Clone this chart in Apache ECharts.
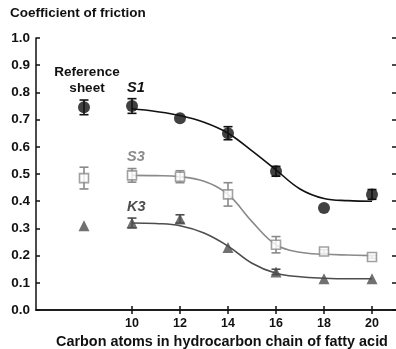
<!DOCTYPE html>
<html>
<head>
<meta charset="utf-8">
<script src="https://cdn.jsdelivr.net/npm/echarts@6/dist/echarts.min.js"></script>
<style>
html,body{margin:0;padding:0;background:#fff;}
#chart{width:396px;height:349px;}
</style>
</head>
<body>
<div id="chart"></div>
<script>
// Chain length (carbon atoms); 8 is the slot used for the reference sheet
var chainX = [8, 10, 12, 14, 16, 18, 20];
var tickX = [10, 12, 14, 16, 18, 20];
var yTicks = [0.0, 0.1, 0.2, 0.3, 0.4, 0.5, 0.6, 0.7, 0.8, 0.9, 1.0];

// Measured coefficient of friction
var s1Mean = [0.745, 0.75, 0.705, 0.65, 0.51, 0.375, 0.425];
var s1Err  = [0.027, 0.027, 0, 0.024, 0.018, 0, 0.018];
var s3Mean = [0.485, 0.495, 0.49, 0.425, 0.24, 0.215, 0.195];
var s3Err  = [0.04, 0.025, 0.022, 0.043, 0.03, 0.007, 0.005];
var k3Mean = [0.31, 0.32, 0.335, 0.23, 0.14, 0.115, 0.115];
var k3Err  = [0, 0.018, 0.015, 0, 0.01, 0, 0];

// Fitted curves, read at each carbon count from 10 to 20
var fitX  = [10, 11, 12, 13, 14, 15, 16, 17, 18, 19, 20];
var s1Fit = [0.74, 0.73, 0.715, 0.69, 0.65, 0.585, 0.515, 0.445, 0.41, 0.402, 0.40];
var s3Fit = [0.495, 0.494, 0.49, 0.473, 0.425, 0.325, 0.24, 0.212, 0.205, 0.202, 0.20];
var k3Fit = [0.32, 0.318, 0.31, 0.283, 0.235, 0.172, 0.135, 0.122, 0.117, 0.115, 0.115];

var C_S1 = '#111111', C_S3 = '#8a8a8a', C_K3 = '#4d4d4d';
var FONT = 'Liberation Sans, Arial, sans-serif';

function pairs(xs, ys) { return xs.map(function (x, i) { return [x, ys[i]]; }); }
function errData(xs, m, e) {
  var out = [];
  xs.forEach(function (x, i) { if (e[i] > 0) out.push([x, m[i] - e[i], m[i] + e[i]]); });
  return out;
}
function errSeries(xs, m, e, color) {
  return {
    type: 'custom', z: 3, silent: true,
    data: errData(xs, m, e),
    renderItem: function (params, api) {
      var lo = api.coord([api.value(0), api.value(1)]);
      var hi = api.coord([api.value(0), api.value(2)]);
      var w = 4.5;
      var st = { stroke: color, lineWidth: 1.6 };
      return { type: 'group', children: [
        { type: 'line', shape: { x1: lo[0], y1: lo[1], x2: hi[0], y2: hi[1] }, style: st },
        { type: 'line', shape: { x1: lo[0] - w, y1: lo[1], x2: lo[0] + w, y2: lo[1] }, style: st },
        { type: 'line', shape: { x1: hi[0] - w, y1: hi[1], x2: hi[0] + w, y2: hi[1] }, style: st }
      ]};
    }
  };
}
function fitSeries(ys, color) {
  return { type: 'line', data: pairs(fitX, ys), smooth: 0.4, showSymbol: false, silent: true,
           lineStyle: { color: color, width: 1.6 }, z: 2 };
}

var axisLineStyle = { color: '#111', width: 1.5 };
var chart = echarts.init(document.getElementById('chart'));
chart.setOption({
  animation: false,
  backgroundColor: '#fff',
  grid: { left: 36, right: 0, top: 38, bottom: 39, containLabel: false, outerBoundsMode: 'none' },
  xAxis: [{
    type: 'value', min: 6, max: 21, position: 'bottom',
    name: 'Carbon atoms in hydrocarbon chain of fatty acid',
    nameLocation: 'middle', nameGap: 24,
    nameTextStyle: { fontFamily: FONT, fontWeight: 'bold', fontSize: 14.4, color: '#111', padding: [0, 0, 0, 12] },
    axisLine: { lineStyle: axisLineStyle },
    axisTick: { inside: true, length: 4, lineStyle: axisLineStyle, customValues: tickX },
    axisLabel: { customValues: tickX, margin: 7, fontFamily: FONT, fontWeight: 'bold', fontSize: 12.5, color: '#111' },
    splitLine: { show: false }
  }, {
    type: 'value', min: 6, max: 21, position: 'top',
    axisLine: { lineStyle: axisLineStyle },
    axisTick: { inside: true, length: 4, lineStyle: axisLineStyle, customValues: tickX },
    axisLabel: { show: false }, splitLine: { show: false }
  }],
  yAxis: [{
    type: 'value', min: 0, max: 1, interval: 0.1, position: 'left',
    axisLine: { show: true, lineStyle: axisLineStyle },
    axisTick: { inside: true, length: 4, lineStyle: axisLineStyle, customValues: yTicks },
    axisLabel: { customValues: yTicks, margin: 6, fontFamily: FONT, fontWeight: 'bold', fontSize: 13.5, color: '#111',
                 formatter: function (v) { return v.toFixed(1); } },
    splitLine: { show: false }
  }, {
    type: 'value', min: 0, max: 1, interval: 0.1, position: 'right',
    axisLine: { show: false },
    axisTick: { show: true, inside: true, length: 4, lineStyle: axisLineStyle },
    axisLabel: { show: false }, splitLine: { show: false }
  }],
  graphic: [
    { type: 'text', left: 10, top: 6, style: { text: 'Coefficient of friction', font: 'bold 13.5px ' + FONT, fill: '#111' } },
    { type: 'text', x: 87, y: 64, style: { text: 'Reference\nsheet', font: 'bold 13.5px ' + FONT, fill: '#111', align: 'center', lineHeight: 16 } },
    { type: 'text', x: 127, y: 80, style: { text: 'S1', font: 'italic bold 14.5px ' + FONT, fill: C_S1 } },
    { type: 'text', x: 127, y: 149, style: { text: 'S3', font: 'italic bold 14.5px ' + FONT, fill: C_S3 } },
    { type: 'text', x: 127, y: 199, style: { text: 'K3', font: 'italic bold 14.5px ' + FONT, fill: C_K3 } }
  ],
  series: [
    fitSeries(s1Fit, C_S1),
    fitSeries(s3Fit, C_S3),
    fitSeries(k3Fit, C_K3),
    errSeries(chainX, s1Mean, s1Err, C_S1),
    errSeries(chainX, s3Mean, s3Err, C_S3),
    errSeries(chainX, k3Mean, k3Err, C_K3),
    { type: 'scatter', data: pairs(chainX, s1Mean), symbol: 'circle', symbolSize: 12, z: 4,
      itemStyle: { color: C_S1 } },
    { type: 'scatter', data: pairs(chainX, s3Mean), symbol: 'rect', symbolSize: 9, z: 4,
      itemStyle: { color: '#fff', borderColor: C_S3, borderWidth: 1.6 } },
    { type: 'scatter', data: pairs(chainX, k3Mean), symbol: 'triangle', symbolSize: 11, z: 4,
      itemStyle: { color: C_K3 } }
  ]
});
</script>
</body>
</html>
